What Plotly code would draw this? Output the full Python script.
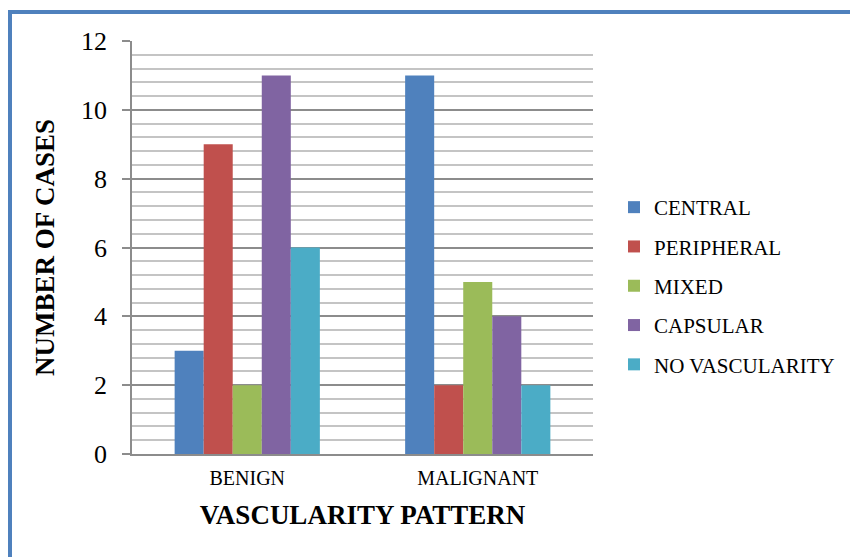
import plotly.graph_objects as go

# Vascularity patterns by lesion type
categories = ["BENIGN", "MALIGNANT"]
series_names = ["CENTRAL", "PERIPHERAL", "MIXED", "CAPSULAR", "NO VASCULARITY"]
central = [3, 11]
peripheral = [9, 2]
mixed = [2, 5]
capsular = [11, 4]
no_vascularity = [6, 2]
series_values = [central, peripheral, mixed, capsular, no_vascularity]
colors = ["#4F81BD", "#C0504D", "#9BBB59", "#8064A2", "#4BACC6"]
y_ticks = [0, 2, 4, 6, 8, 10, 12]

FONT = "Liberation Serif, Times New Roman, serif"

fig = go.Figure()
for i, (name, vals, col) in enumerate(zip(series_names, series_values, colors)):
    fig.add_trace(go.Bar(
        x=categories, y=vals, name=name,
        marker=dict(color=col, line=dict(width=0)),
        legendgroup=f"g{i}",
    ))

L, R, T, B = 132, 257, 41, 103
W, H = 850, 557
pw, ph = W - L - R, H - T - B

def px_x(x):
    return (x - L) / pw

def px_y(y):
    return (H - B - y) / ph

fig.update_layout(
    width=W, height=H,
    margin=dict(l=L, r=R, t=T, b=B, autoexpand=False),
    paper_bgcolor="white", plot_bgcolor="white",
    barmode="group", bargap=0.37, bargroupgap=0,
    font=dict(family=FONT, color="black"),
    showlegend=True,
    legend=dict(
        x=px_x(614), y=px_y(187), xanchor="left", yanchor="top",
        font=dict(family=FONT, size=21, color="black"),
        traceorder="grouped", tracegroupgap=9,
        itemwidth=30, bgcolor="rgba(0,0,0,0)",
    ),
    xaxis=dict(
        showline=True, linecolor="#8c8c8c", linewidth=1.5,
        ticks="outside", ticklen=5, tickcolor="rgba(0,0,0,0)",
        tickfont=dict(family=FONT, size=20, color="black"),
        title=dict(text="<b>VASCULARITY PATTERN</b>",
                   font=dict(family=FONT, size=27, color="black"), standoff=17),
        showgrid=False, zeroline=False, automargin=False,
    ),
    yaxis=dict(
        range=[0, 12], tickvals=y_ticks, ticktext=[str(v) for v in y_ticks],
        showline=True, linecolor="#8c8c8c", linewidth=1.5,
        ticks="outside", ticklen=8, tickcolor="#8c8c8c", tickwidth=1.5,
        ticklabelstandoff=10,
        tickfont=dict(family=FONT, size=26, color="black"),
        showgrid=True, gridcolor="#8c8c8c", gridwidth=1.5,
        zeroline=False, automargin=False,
        minor=dict(dtick=0.4, tick0=0, showgrid=True, gridcolor="#c4c4c4", gridwidth=1.5),
        title=dict(text="<b>NUMBER OF CASES</b>",
                   font=dict(family=FONT, size=27, color="black"), standoff=19),
    ),
    shapes=[
        dict(type="line", xref="paper", yref="paper",
             x0=px_x(10), x1=px_x(10), y0=px_y(11), y1=px_y(H + 5),
             line=dict(color="#4F81BD", width=4)),
        dict(type="line", xref="paper", yref="paper",
             x0=px_x(8), x1=px_x(W + 5), y0=px_y(12), y1=px_y(12),
             line=dict(color="#4F81BD", width=4)),
    ],
)

fig.write_html("out.html")
